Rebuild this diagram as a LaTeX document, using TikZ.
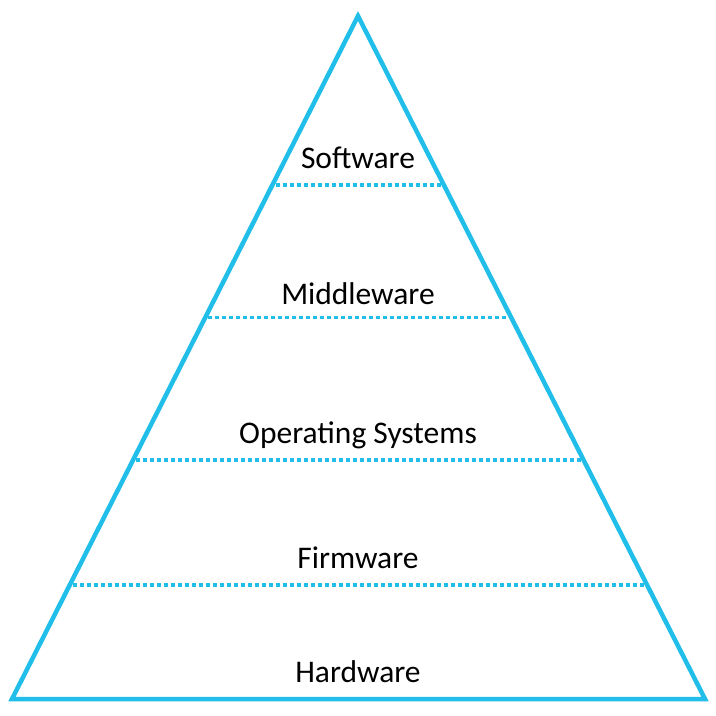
\documentclass[tikz,border=0pt]{standalone}
\usepackage{fontspec}
\setmainfont{Carlito}
\usetikzlibrary{calc}
\definecolor{pyr}{RGB}{32,190,232}
\begin{document}
\begin{tikzpicture}[x=1pt,y=-1pt,
  edge/.style={draw=pyr,line width=4.5pt,line join=miter},
  layer/.style={draw=pyr,line width=3.8pt,dash pattern=on 4pt off 3pt},
  lbl/.style={anchor=base,font=\fontsize{31.5}{36}\selectfont,inner sep=0pt}]
\useasboundingbox (0,0) rectangle (716,716);
\coordinate (apex) at (358,16);
\coordinate (bl) at (12,699);
\coordinate (br) at (705,699);
\draw[edge] (apex) -- (bl) -- (br) -- cycle;
\foreach \t [count=\i] in {0.2471,0.4415,0.6506,0.8333}{
  \coordinate (l\i) at ($(apex)!\t!(bl)$);
  \coordinate (r\i) at ($(apex)!\t!(br)$);
  \draw[layer] ($(l\i)+(3,0)$) -- ($(r\i)+(-3,0)$);
}
\node[lbl] (sw) at (358,168) {Software};
\node[lbl] (mw) at (358,304) {Middleware};
\node[lbl] (os) at (358,443) {Operating Systems};
\node[lbl] (fw) at (358,568) {Firmware};
\node[lbl] (hw) at (358,682) {Hardware};
\end{tikzpicture}
\end{document}
